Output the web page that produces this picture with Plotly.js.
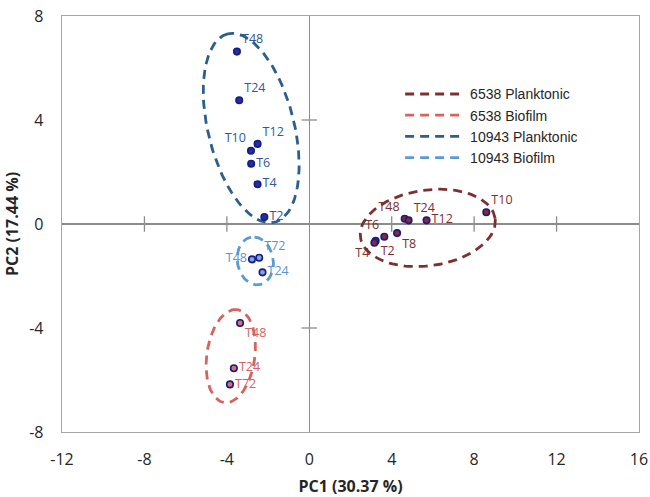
<!DOCTYPE html>
<html><head><meta charset="utf-8">
<script src="https://cdn.plot.ly/plotly-3.0.1.min.js"></script>
<style>html,body{margin:0;padding:0;background:#fff}#chart{width:650px;height:497px}</style>
</head><body><div id="chart"></div>
<script>
// ---- data ----
const groupNames = ['6538 Planktonic', '6538 Biofilm', '10943 Planktonic', '10943 Biofilm'];

const p6538Labels = ['T10', 'T48', 'T24', 'T12', 'T8', 'T6', 'T2', 'T4'];
const p6538PC1 = [8.59, 4.63, 4.82, 5.69, 4.26, 3.64, 3.22, 3.16];
const p6538PC2 = [0.45, 0.20, 0.14, 0.14, -0.35, -0.49, -0.65, -0.72];

const b6538Labels = ['T48', 'T24', 'T72'];
const b6538PC1 = [-3.36, -3.66, -3.85];
const b6538PC2 = [-3.81, -5.55, -6.17];

const p10943Labels = ['T48', 'T24', 'T12', 'T10', 'T6', 'T4', 'T2'];
const p10943PC1 = [-3.51, -3.40, -2.51, -2.83, -2.82, -2.51, -2.18];
const p10943PC2 = [6.63, 4.76, 3.08, 2.82, 2.32, 1.53, 0.27];

const b10943Labels = ['T72', 'T48', 'T24'];
const b10943PC1 = [-2.43, -2.78, -2.27];
const b10943PC2 = [-1.30, -1.36, -1.86];

const xTicks = [-12, -8, -4, 0, 4, 8, 12, 16];
const yTicks = [-8, -4, 0, 4, 8];

// ---- styling ----
const lineCol = ['#7E3030', '#D8625E', '#2C5F8E', '#5B9BD5'];
const textCol = ['#7B2F2F', '#D06565', '#2F5A9A', '#5B94D2'];
const fillCol = ['#8B2A2A', '#E0705E', '#22309A', '#7FA6DE'];
const markerLine = '#141C88';

// grouping ellipses (decorative outlines): center, semi-axes (x-units), angle (deg)
const ellCenter = [[5.75, -0.15], [-3.81, -5.08], [-2.82, 3.69], [-2.62, -1.42]];
const ellAxes = [[3.30, 1.84], [2.28, 1.17], [4.71, 2.09], [1.17, 0.87]];
const ellAngle = [8, 82, 104, 100];

const xRange = [-12, 16], yRange = [-8, 8];
const W = 650, H = 497, M = {l: 62, r: 11, t: 16, b: 65};
const pxX = (W - M.l - M.r) / (xRange[1] - xRange[0]);
const pxY = (H - M.t - M.b) / (yRange[1] - yRange[0]);
const k = pxX / pxY;

function ellipse(i) {
  const [cx, cy] = ellCenter[i], [a, b] = ellAxes[i], th = ellAngle[i] * Math.PI / 180;
  const xs = [], ys = [];
  for (let s = 0; s <= 120; s++) {
    const t = s / 120 * 2 * Math.PI;
    const ex = a * Math.cos(t) * Math.cos(th) - b * Math.sin(t) * Math.sin(th);
    const ey = a * Math.cos(t) * Math.sin(th) + b * Math.sin(t) * Math.cos(th);
    xs.push(cx + ex); ys.push(cy + ey * k);
  }
  return {xs, ys};
}

const traces = [];
groupNames.forEach((n, i) => {
  const e = ellipse(i);
  traces.push({
    x: e.xs, y: e.ys, type: 'scatter', mode: 'lines', name: n,
    line: {color: lineCol[i], width: 2.8, dash: '9px,6px'},
    hoverinfo: 'skip'
  });
});

const groups = [
  [p6538PC1, p6538PC2, p6538Labels, ['top right', 'top left', 'top right', 'middle right', 'bottom right', 'top left', 'bottom right', 'bottom left']],
  [b6538PC1, b6538PC2, b6538Labels, ['bottom right', 'middle right', 'middle right']],
  [p10943PC1, p10943PC2, p10943Labels, ['top right', 'top right', 'top right', 'top left', 'middle right', 'middle right', 'middle right']],
  [b10943PC1, b10943PC2, b10943Labels, ['top right', 'middle left', 'middle right']]
];
groups.forEach((g, i) => {
  traces.push({
    x: g[0], y: g[1], text: g[2], textposition: g[3],
    type: 'scatter', mode: 'markers+text', showlegend: false, cliponaxis: false,
    marker: {size: 6.5, color: fillCol[i], line: {color: markerLine, width: 1.6}},
    textfont: {family: 'Open Sans', size: 12.5, color: textCol[i]}
  });
});

// tick marks crossing the zero axes
const xInner = xTicks.filter(v => v !== 0 && v > xRange[0] && v < xRange[1]);
const yInner = yTicks.filter(v => v !== 0 && v > yRange[0] && v < yRange[1]);
traces.push({
  x: xInner, y: xInner.map(() => 0), type: 'scatter', mode: 'markers', showlegend: false, hoverinfo: 'skip',
  marker: {symbol: 'line-ns-open', size: 11, color: '#8C8C8C', line: {color: '#8C8C8C', width: 1.3}}
});
traces.push({
  x: yInner.map(() => 0), y: yInner, type: 'scatter', mode: 'markers', showlegend: false, hoverinfo: 'skip',
  marker: {symbol: 'line-ew-open', size: 11, color: '#8C8C8C', line: {color: '#8C8C8C', width: 1.3}}
});

const tickFont = {family: 'Open Sans', size: 16, color: '#262626'};
const titleFont = {family: 'Open Sans', size: 16, color: '#262626', weight: 'bold'};
const layout = {
  width: W, height: H, margin: M,
  paper_bgcolor: '#fff', plot_bgcolor: '#fff',
  showlegend: true,
  legend: {x: 0.586, y: 0.85, xanchor: 'left', yanchor: 'top', bgcolor: 'rgba(0,0,0,0)',
           font: {family: 'Liberation Sans', size: 14, color: '#262626'}, itemwidth: 60, tracegroupgap: 0},
  xaxis: {
    range: xRange, tickvals: xTicks, ticktext: xTicks.map(String), ticks: '', showgrid: false,
    zeroline: true, zerolinecolor: '#8C8C8C', zerolinewidth: 1.5,
    showline: true, mirror: true, linecolor: '#A6A6A6', linewidth: 1.3,
    tickfont: tickFont, ticklabelstandoff: 12,
    title: {text: 'PC1 (30.37 %)', font: titleFont, standoff: 12}
  },
  yaxis: {
    range: yRange, tickvals: yTicks, ticktext: yTicks.map(String), ticks: '', showgrid: false,
    zeroline: true, zerolinecolor: '#8C8C8C', zerolinewidth: 1.5,
    showline: true, mirror: true, linecolor: '#A6A6A6', linewidth: 1.3,
    tickfont: tickFont, ticklabelstandoff: 14,
    title: {text: 'PC2 (17.44 %)', font: titleFont, standoff: 6}
  }
};
Plotly.newPlot('chart', traces, layout, {displayModeBar: false, staticPlot: true});
</script></body></html>
